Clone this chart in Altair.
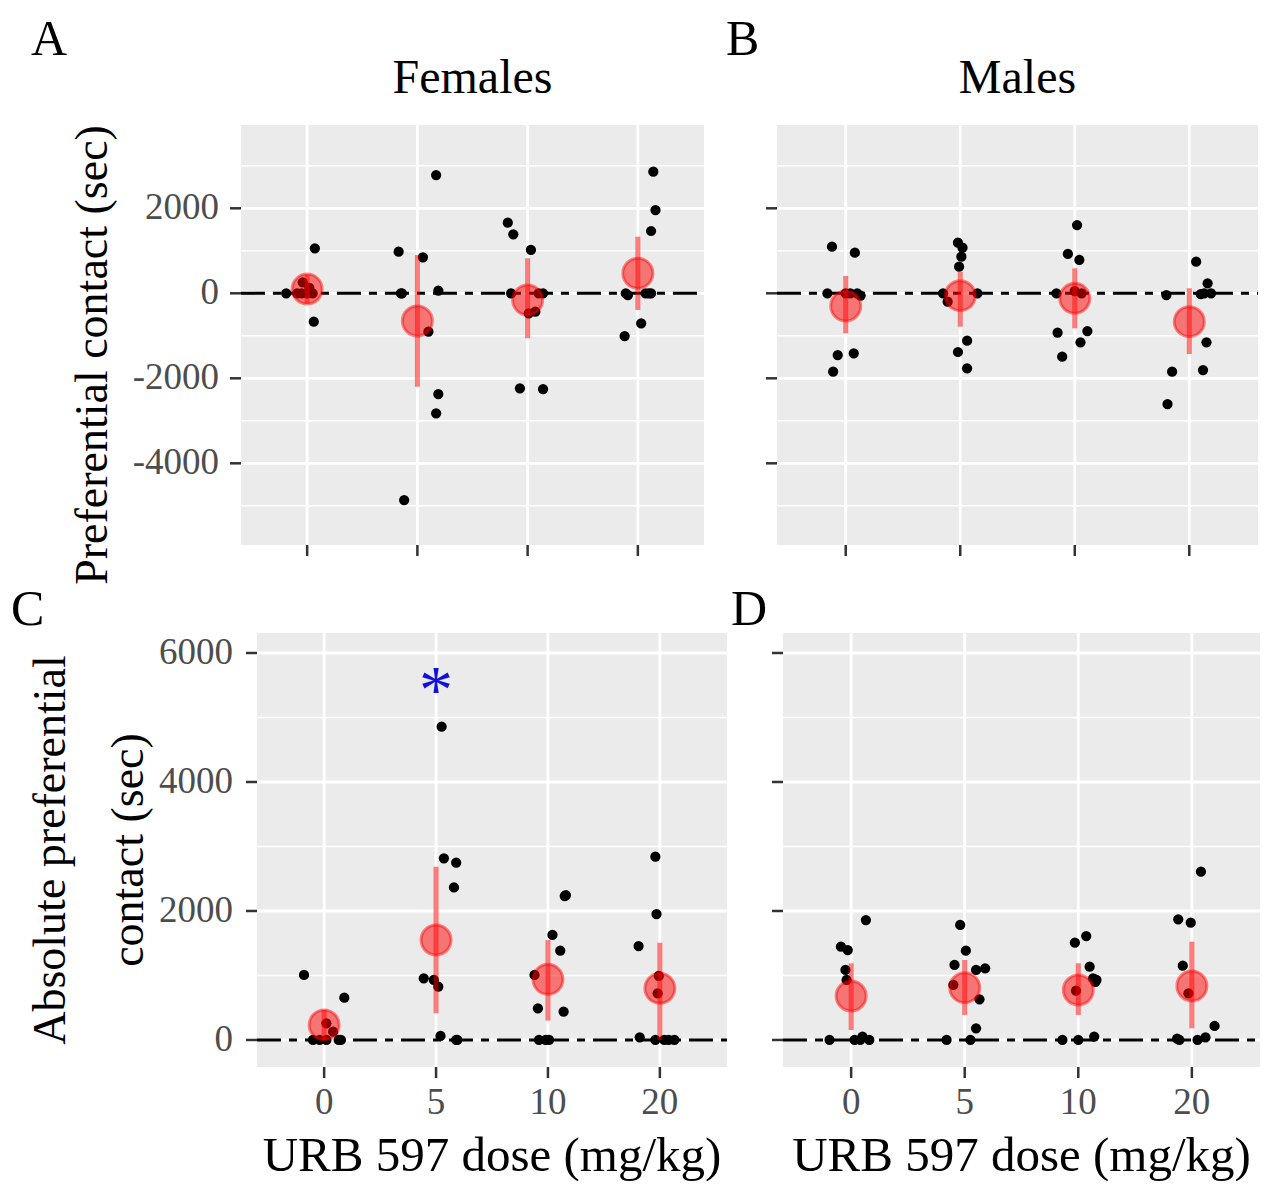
import altair as alt
import pandas as pd

# ---------------- data ----------------
DOSES = ["0", "5", "10", "20"]

# Panel A: Females, preferential contact (sec)
A_VALUES = [
    [1059, 0, 260, 130, 0, 0, 0, 0, -668],
    [979, 847, 2783, 62, 0, 0, -903, -2370, -2824, -4864],
    [1661, 1388, 1019, 0, 0, 0, -471, -432, -2236, -2252],
    [2861, 1960, 1466, 0, -42, 0, 0, 0, -706, -1005],
]
A_JITTER = [
    [0.07, -0.19, -0.04, 0.02, 0.0, 0.05, -0.09, -0.05, 0.06],
    [-0.17, 0.05, 0.17, 0.19, -0.15, -0.14, 0.10, 0.19, 0.17, -0.12],
    [-0.18, -0.13, 0.03, -0.15, 0.14, 0.10, 0.01, 0.07, -0.07, 0.14],
    [0.14, 0.16, 0.12, -0.11, -0.09, 0.07, 0.12, 0.10, 0.03, -0.12],
]
A_MEAN = [100, -652, -158, 471]
A_LOW = [-240, -2197, -1059, -393]
A_HIGH = [440, 901, 824, 1332]

# Panel B: Males, preferential contact (sec)
B_VALUES = [
    [1097, 955, 0, 0, 0, 0, -52, -1412, -1452, -1845],
    [1191, 1073, 861, 626, 0, -198, 0, -1115, -1381, -1765],
    [1607, 925, 784, 52, 0, 0, -887, -926, -1153, -1491],
    [744, 235, 0, 0, -20, -40, -1153, -1805, -1845, -2605],
]
B_JITTER = [
    [-0.12, 0.08, -0.16, 0.04, 0.10, 0.0, 0.13, 0.07, -0.07, -0.11],
    [-0.02, 0.02, 0.01, -0.01, -0.15, -0.11, 0.15, 0.06, -0.02, 0.06],
    [0.02, -0.06, 0.04, 0.0, -0.16, 0.06, 0.11, -0.15, 0.05, -0.11],
    [0.06, 0.16, 0.13, 0.19, 0.10, -0.20, 0.15, 0.12, -0.15, -0.19],
]
B_MEAN = [-299, -56, -118, -668]
B_LOW = [-941, -786, -824, -1428]
B_HIGH = [407, 508, 588, 118]

# Panel C: Females, absolute preferential contact (sec)
C_VALUES = [
    [1008, 656, 258, 129, 0, 0, 0, 0, 0],
    [4857, 2816, 2749, 2366, 956, 930, 826, 62, 0, 0],
    [2232, 2245, 1628, 1384, 1008, 491, 439, 0, 0, 0],
    [2841, 1953, 1457, 992, 724, 42, 0, 0, 0, 0],
]
C_JITTER = [
    [-0.18, 0.18, 0.02, 0.08, -0.10, -0.04, 0.13, 0.15, 0.02],
    [0.05, 0.07, 0.18, 0.16, -0.11, -0.02, 0.02, 0.04, 0.18, 0.19],
    [0.15, 0.16, 0.04, 0.11, -0.12, -0.09, 0.14, -0.08, 0.01, -0.02],
    [-0.04, -0.03, -0.19, -0.01, -0.02, -0.18, -0.04, 0.04, 0.13, 0.08],
]
C_MEAN = [233, 1550, 940, 801]
C_LOW = [0, 413, 300, 0]
C_HIGH = [470, 2686, 1550, 1508]
C_STAR_DOSE = 2          # position of the "5" dose
C_STAR_VALUE = 5606

# Panel D: Males, absolute preferential contact (sec)
D_VALUES = [
    [1860, 1446, 1395, 1085, 930, 52, 0, 0, 0, 0],
    [1783, 1384, 1163, 1085, 1111, 853, 631, 181, 0, 0],
    [1612, 1508, 1136, 956, 930, 900, 765, 52, 0, 0],
    [2609, 1871, 1818, 1152, 724, 217, 20, 0, 0, 40],
]
D_JITTER = [
    [0.13, -0.09, -0.03, -0.05, -0.04, 0.10, -0.19, 0.08, 0.16, 0.03],
    [-0.04, 0.01, -0.09, 0.10, 0.18, -0.10, 0.13, 0.10, -0.16, 0.05],
    [0.07, -0.03, 0.10, 0.13, 0.16, 0.15, -0.02, 0.14, -0.14, 0.0],
    [0.08, -0.12, -0.01, -0.08, -0.03, 0.20, -0.13, -0.11, 0.05, 0.12],
]
D_MEAN = [682, 811, 775, 837]
D_LOW = [155, 388, 388, 181]
D_HIGH = [1189, 1240, 1189, 1524]

TOP_MAJOR = [-4000, -2000, 0, 2000]
TOP_MINOR = [-5000, -3000, -1000, 1000, 3000]
TOP_DOMAIN = [-5922, 3960]
BOT_MAJOR = [0, 2000, 4000, 6000]
BOT_MINOR = [1000, 3000, 5000]
BOT_DOMAIN = [-419, 6310]

X_TITLE = "URB 597 dose (mg/kg)"
Y_TITLE_TOP = ["Preferential contact (sec)"]
Y_TITLE_BOTTOM = ["Absolute preferential", "contact (sec)"]

# ---------------- styling ----------------
FONT = "Liberation Serif"
BG = "#EBEBEB"
TICK = "#333333"
LABEL = "#4D4D4D"


def points_frame(values, jitter):
    xs, vs = [], []
    for i, (vals, jits) in enumerate(zip(values, jitter)):
        for v, j in zip(vals, jits):
            xs.append(i + 1 + j)
            vs.append(v)
    return pd.DataFrame({"x": xs, "v": vs})


def summary_frame(means, lows, highs):
    return pd.DataFrame({"x": list(range(1, len(DOSES) + 1)),
                         "mean": means, "lo": lows, "hi": highs})


def one():
    return pd.DataFrame({"k": [0]})


def text_at(text, x, y, size, align="left", baseline="alphabetic",
            angle=0, color="black"):
    return alt.Chart(pd.DataFrame({"t": [text]})).mark_text(
        font=FONT, fontSize=size, align=align, baseline=baseline,
        angle=angle, color=color
    ).encode(x=alt.value(x), y=alt.value(y), text="t:N")


def panel(values, jitter, means, lows, highs, w, h, ydomain, major, minor,
          x0=0, ylabels=False, xlabels=False, ytitles=(), letter=None,
          facet=None, star=False, spacer=None):
    pts = points_frame(values, jitter)
    summ = summary_frame(means, lows, highs)
    dose_df = pd.DataFrame({"pos": list(range(1, len(DOSES) + 1)), "label": DOSES})
    major_df = pd.DataFrame({"v": major, "label": [str(m) for m in major]})

    xs = alt.Scale(domain=[0.4, 4.6], range=[x0, x0 + w], nice=False, zero=False)
    ys = alt.Scale(domain=ydomain, nice=False, zero=False)

    def X(f):
        return alt.X(f, scale=xs, axis=None)

    def Y(f):
        return alt.Y(f, scale=ys, axis=None)

    layers = []
    # panel background
    layers.append(alt.Chart(one()).mark_rect(color=BG).encode(
        x=alt.value(x0), x2=alt.value(x0 + w), y=alt.value(0), y2=alt.value(h)))
    # minor + major horizontal grid
    layers.append(alt.Chart(pd.DataFrame({"v": minor})).mark_rule(
        color="white", strokeWidth=1.4
    ).encode(y=Y("v:Q"), x=alt.value(x0), x2=alt.value(x0 + w)))
    layers.append(alt.Chart(major_df).mark_rule(
        color="white", strokeWidth=2.8
    ).encode(y=Y("v:Q"), x=alt.value(x0), x2=alt.value(x0 + w)))
    # vertical grid
    layers.append(alt.Chart(dose_df).mark_rule(
        color="white", strokeWidth=2.8
    ).encode(x=X("pos:Q"), y=alt.value(0), y2=alt.value(h)))
    # ticks
    layers.append(alt.Chart(major_df).mark_rule(
        color=TICK, strokeWidth=2.5
    ).encode(y=Y("v:Q"), x=alt.value(x0 - 11), x2=alt.value(x0)))
    layers.append(alt.Chart(dose_df).mark_rule(
        color=TICK, strokeWidth=2.5
    ).encode(x=X("pos:Q"), y=alt.value(h), y2=alt.value(h + 11)))
    # tick labels
    if ylabels:
        layers.append(alt.Chart(major_df).mark_text(
            font=FONT, fontSize=37, color=LABEL, align="right", baseline="middle"
        ).encode(y=Y("v:Q"), x=alt.value(x0 - ylabels), text="label:N"))
    if xlabels:
        layers.append(alt.Chart(dose_df).mark_text(
            font=FONT, fontSize=37, color=LABEL, align="center", baseline="alphabetic"
        ).encode(x=X("pos:Q"), y=alt.value(h + 47), text="label:N"))
        layers.append(text_at(X_TITLE, x0 + w / 2, h + 104, 49, align="center"))
    for (t, tx, ty) in ytitles:
        layers.append(text_at(t, tx, ty, 46, align="center", baseline="middle",
                              angle=270))

    # reference line at zero (two-dash)
    layers.append(alt.Chart(pd.DataFrame({"v": [0]})).mark_rule(
        color="black", strokeWidth=3, strokeDash=[24, 8, 8, 8]
    ).encode(y=Y("v:Q"), x=alt.value(x0), x2=alt.value(x0 + w)))

    # jittered individual values
    layers.append(alt.Chart(pts).mark_circle(
        size=105, color="black", opacity=1
    ).encode(x=X("x:Q"), y=Y("v:Q")))

    # 95% CI and mean
    layers.append(alt.Chart(summ).mark_rule(
        color="red", opacity=0.5, strokeWidth=5
    ).encode(x=X("x:Q"), y=Y("lo:Q"), y2="hi:Q"))
    layers.append(alt.Chart(summ).mark_circle(
        size=900, color="red", opacity=1, fillOpacity=0.5,
        stroke="red", strokeOpacity=0.45, strokeWidth=3
    ).encode(x=X("x:Q"), y=Y("mean:Q")))

    if star:
        layers.append(alt.Chart(pd.DataFrame({"x": [C_STAR_DOSE], "v": [C_STAR_VALUE]})).mark_text(
            text="*", font=FONT, fontSize=68, color="#1010E0", dy=34,
            align="center", baseline="alphabetic"
        ).encode(x=X("x:Q"), y=Y("v:Q")))

    if letter:
        t, lx, ly = letter
        layers.append(text_at(t, lx, ly, 50))
    if facet:
        layers.append(text_at(facet, x0 + w / 2, -32, 48, align="center"))
    if spacer is not None:
        layers.append(alt.Chart(one()).mark_rule(color="white", strokeWidth=1).encode(
            x=alt.value(spacer), x2=alt.value(spacer + 1),
            y=alt.value(0), y2=alt.value(1)))

    return alt.layer(*layers).properties(width=x0 + w, height=h)


WA, WB, WC, WD = 463, 481, 470, 477
H1, H2 = 420, 434

panel_a = panel(A_VALUES, A_JITTER, A_MEAN, A_LOW, A_HIGH, WA, H1, TOP_DOMAIN,
                TOP_MAJOR, TOP_MINOR, x0=0, ylabels=22,
                ytitles=[(Y_TITLE_TOP[0], -148, 230)],
                letter=("A", -210, -70), facet="Females", spacer=-230)
panel_b = panel(B_VALUES, B_JITTER, B_MEAN, B_LOW, B_HIGH, WB, H1, TOP_DOMAIN,
                TOP_MAJOR, TOP_MINOR, x0=0,
                letter=("B", -51, -70), facet="Males")
panel_c = panel(C_VALUES, C_JITTER, C_MEAN, C_LOW, C_HIGH, WC, H2, BOT_DOMAIN,
                BOT_MAJOR, BOT_MINOR, x0=16, ylabels=24, xlabels=True,
                ytitles=[(Y_TITLE_BOTTOM[0], -190, 217),
                         (Y_TITLE_BOTTOM[1], -112, 217)],
                letter=("C", -230, -8), star=True)
panel_d = panel(D_VALUES, D_JITTER, D_MEAN, D_LOW, D_HIGH, WD, H2, BOT_DOMAIN,
                BOT_MAJOR, BOT_MINOR, x0=0, xlabels=True,
                letter=("D", -52, -8))

row1 = alt.hconcat(panel_a, panel_b, spacing=20)
row2 = alt.hconcat(panel_c, panel_d, spacing=2)

chart = alt.concat(row1, row2, columns=1, spacing=0).configure_view(
    strokeWidth=0
).properties(
    padding={"left": 2, "top": 7, "right": 0, "bottom": 0},
    background="white"
)

chart.save("out.html", embed_options={"renderer": "svg", "actions": False})
